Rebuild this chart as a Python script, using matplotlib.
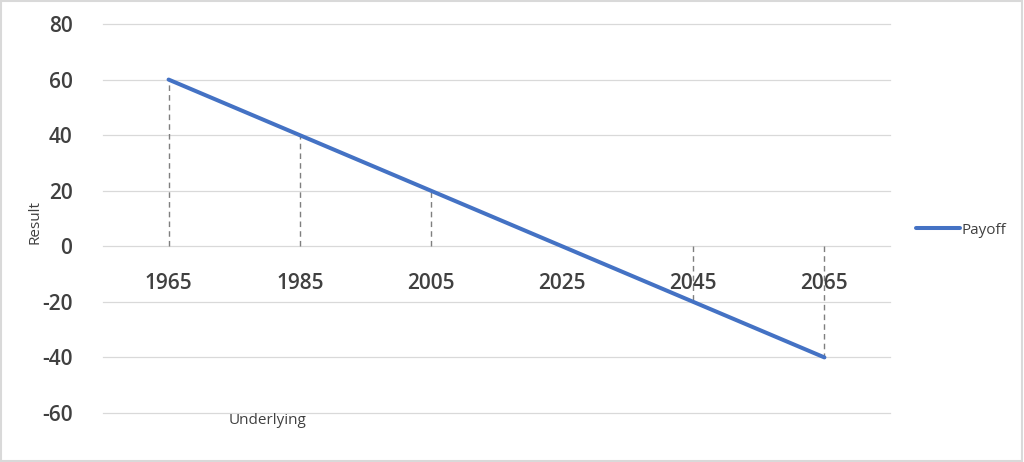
import matplotlib
matplotlib.use("Agg")
import matplotlib.pyplot as plt
from matplotlib.patches import Rectangle

years = ["1965", "1985", "2005", "2025", "2045", "2065"]
payoff = [60, 40, 20, 0, -20, -40]
y_ticks = [-60, -40, -20, 0, 20, 40, 60, 80]

LINE = "#4472C4"
TXT = "#404040"
GRID = "#D9D9D9"

plt.rcParams['font.family'] = ['Open Sans', 'DejaVu Sans']

fig = plt.figure(figsize=(10.24, 4.62), dpi=100)
ax = fig.add_axes([103 / 1024, 1 - 413 / 462, 787 / 1024, 389 / 462])

for s in ax.spines.values():
    s.set_visible(False)
ax.spines['bottom'].set_position(('data', 0))

x = list(range(len(years)))
ax.vlines(x, 0, payoff, colors="#7F7F7F", linestyles=(0, (4, 3)), lw=1.0, zorder=2)
ax.plot(x, payoff, color=LINE, lw=2.9, solid_capstyle='round', label="Payoff", zorder=3)

ax.set_xlim(-0.5, len(years) - 0.5)
ax.set_ylim(-60, 80)
ax.set_yticks(y_ticks)
ax.set_yticklabels([str(v) for v in y_ticks], fontsize=15, color=TXT, fontweight='semibold')
ax.set_xticks(x)
ax.set_xticklabels(years, fontsize=15, color=TXT, fontweight='semibold')
ax.grid(axis='y', color=GRID, lw=0.9)
for gl in ax.get_ygridlines():
    gl.set_clip_on(False)
ax.set_axisbelow(True)
ax.tick_params(axis='both', length=0)
ax.tick_params(axis='x', pad=19)
ax.tick_params(axis='y', pad=22)

fig.text(35 / 1024, 1 - 222 / 462, "Result", rotation=90, fontsize=11, color=TXT,
         ha='center', va='center')
fig.text(268 / 1024, 1 - 420 / 462, "Underlying", fontsize=11, color=TXT,
         ha='center', va='center')

leg = fig.legend(loc='center left', bbox_to_anchor=(916 / 1024, 1 - 230 / 462),
                 frameon=False, fontsize=11, handlelength=2.9, handletextpad=0.1,
                 borderaxespad=0, borderpad=0)
for t in leg.get_texts():
    t.set_color(TXT)

fig.patches.append(Rectangle((0.001, 0.002), 0.997, 0.995, transform=fig.transFigure,
                             fill=False, ec="#D9D9D9", lw=1.5))

fig.savefig("out.png", dpi=100)
